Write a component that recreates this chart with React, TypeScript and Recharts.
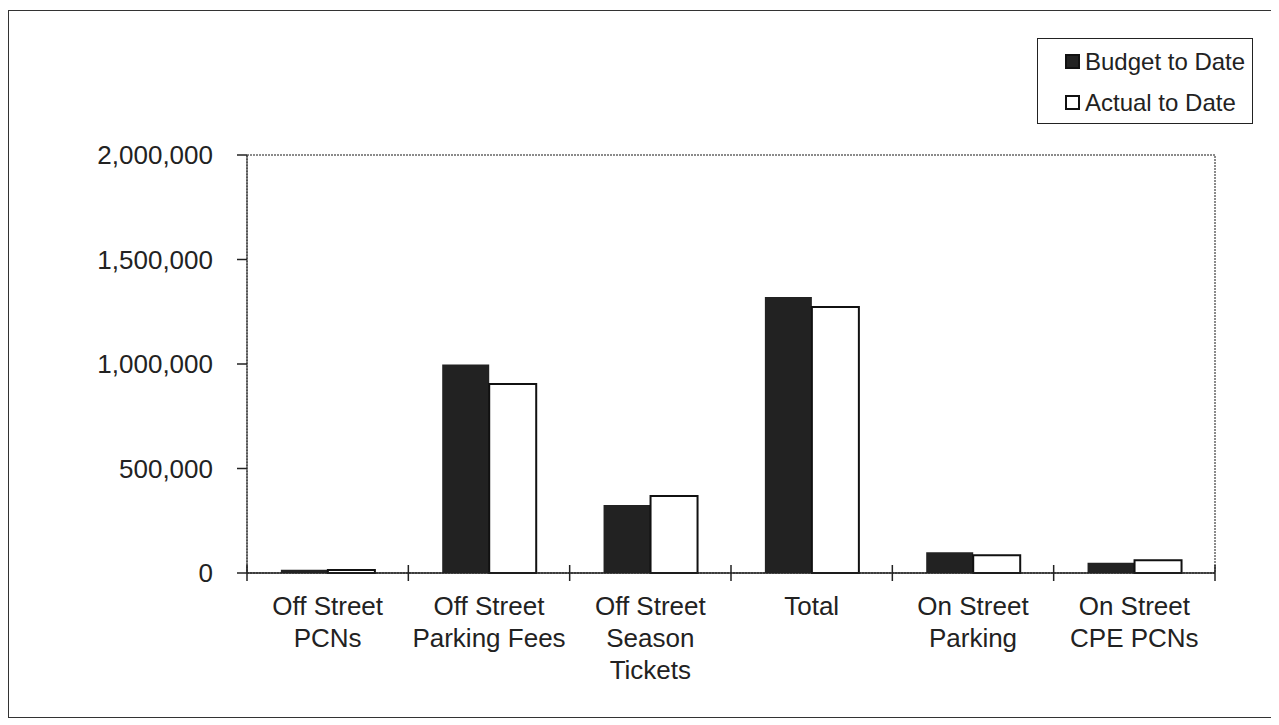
import { BarChart, Bar, XAxis, YAxis, Legend, ReferenceArea } from 'recharts';

const categories = [
  'Off Street PCNs',
  'Off Street Parking Fees',
  'Off Street Season Tickets',
  'Total',
  'On Street Parking',
  'On Street CPE PCNs',
];
const tickLines = [
  ['Off Street', 'PCNs'],
  ['Off Street', 'Parking Fees'],
  ['Off Street', 'Season', 'Tickets'],
  ['Total'],
  ['On Street', 'Parking'],
  ['On Street', 'CPE PCNs'],
];
const seriesOrder = ['budget', 'actual'];
const budgetToDate = [15000, 998000, 325000, 1320000, 99000, 49000];
const actualToDate = [14000, 904000, 368000, 1273000, 85000, 61000];
const yTicks = [0, 500000, 1000000, 1500000, 2000000];

const FONT = '"Liberation Sans", Arial, sans-serif';
const CHART_W = 1266;
const CHART_H = 706;
const MARGIN = { top: 144, right: 60, left: 0, bottom: 44 };
const Y_W = 238;
const HALF_BAND = (CHART_W - Y_W - MARGIN.right) / categories.length / 2;

const data = categories.map((name, i) => ({
  name,
  budget: budgetToDate[i],
  actual: actualToDate[i],
}));

const CategoryTick = (props: any) => {
  const { x, y, payload, index } = props;
  const idx = payload.index ?? index;
  const lines = tickLines[idx] || [payload.value];
  const last = idx === categories.length - 1;
  return (
    <g>
      <line x1={x - HALF_BAND} x2={x - HALF_BAND} y1={y - 8} y2={y + 8} stroke="#222" strokeWidth={1.5} />
      {last && (
        <line x1={x + HALF_BAND} x2={x + HALF_BAND} y1={y - 8} y2={y + 8} stroke="#222" strokeWidth={1.5} />
      )}
      <text x={x} y={y + 42} textAnchor="middle" fontSize={26} fontFamily={FONT} fill="#222">
        {lines.map((l: string, i: number) => (
          <tspan key={i} x={x} dy={i === 0 ? 0 : 32}>
            {l}
          </tspan>
        ))}
      </text>
    </g>
  );
};

const LegendBox = (props: any) => {
  const payload = [...(props.payload || [])].sort(
    (a: any, b: any) => seriesOrder.indexOf(a.dataKey) - seriesOrder.indexOf(b.dataKey)
  );
  return (
    <div
      style={{
        border: '1px solid #222',
        width: 214,
        height: 82,
        boxSizing: 'content-box',
        background: '#fff',
        fontFamily: FONT,
        fontSize: 24,
        color: '#222',
        paddingTop: 2,
        whiteSpace: 'nowrap',
      }}
    >
      {payload.map((entry: any, i: number) => (
        <div key={i} style={{ display: 'flex', alignItems: 'center', height: 41, paddingLeft: 27 }}>
          <span
            style={{
              display: 'inline-block',
              width: 11,
              height: 11,
              background: entry.dataKey === 'actual' ? '#fff' : '#222',
              border: '2px solid #111',
              marginRight: 5,
            }}
          />
          <span>{entry.value}</span>
        </div>
      ))}
    </div>
  );
};

export default function App() {
  return (
    <div
      style={{
        marginTop: 2,
        width: CHART_W,
        height: CHART_H,
        border: '1px solid #333',
        background: '#fff',
        fontFamily: FONT,
      }}
    >
      <BarChart
        width={CHART_W}
        height={CHART_H}
        data={data}
        margin={MARGIN}
        barCategoryGap="21%"
        barGap={0}
      >
        <ReferenceArea y1={0} y2={2000000} fill="none" stroke="#666" strokeWidth={1.5} strokeDasharray="2 1" />
        <XAxis
          dataKey="name"
          interval={0}
          height={100}
          tickLine={false}
          tickSize={0}
          tickMargin={0}
          axisLine={{ stroke: '#222', strokeWidth: 1.5 }}
          tick={<CategoryTick />}
        />
        <YAxis
          width={Y_W}
          domain={[0, 2000000]}
          ticks={yTicks}
          interval={0}
          tickSize={10}
          tickMargin={24}
          axisLine={{ stroke: '#444', strokeWidth: 1.5, strokeDasharray: '2 1' }}
          tickLine={{ stroke: '#222', strokeWidth: 1.5 }}
          tick={{ fontSize: 26, fill: '#222', fontFamily: FONT }}
          tickFormatter={(v: number) => v.toLocaleString('en-US')}
        />
        <Legend
          layout="vertical"
          align="center"
          verticalAlign="middle"
          content={<LegendBox />}
          wrapperStyle={{ position: 'absolute', left: 1028, top: 27, width: 216, height: 88 }}
        />
        <Bar dataKey="budget" name="Budget to Date" fill="#222" isAnimationActive={false} />
        <Bar
          dataKey="actual"
          name="Actual to Date"
          fill="#fff"
          stroke="#111"
          strokeWidth={2}
          isAnimationActive={false}
        />
      </BarChart>
    </div>
  );
}
